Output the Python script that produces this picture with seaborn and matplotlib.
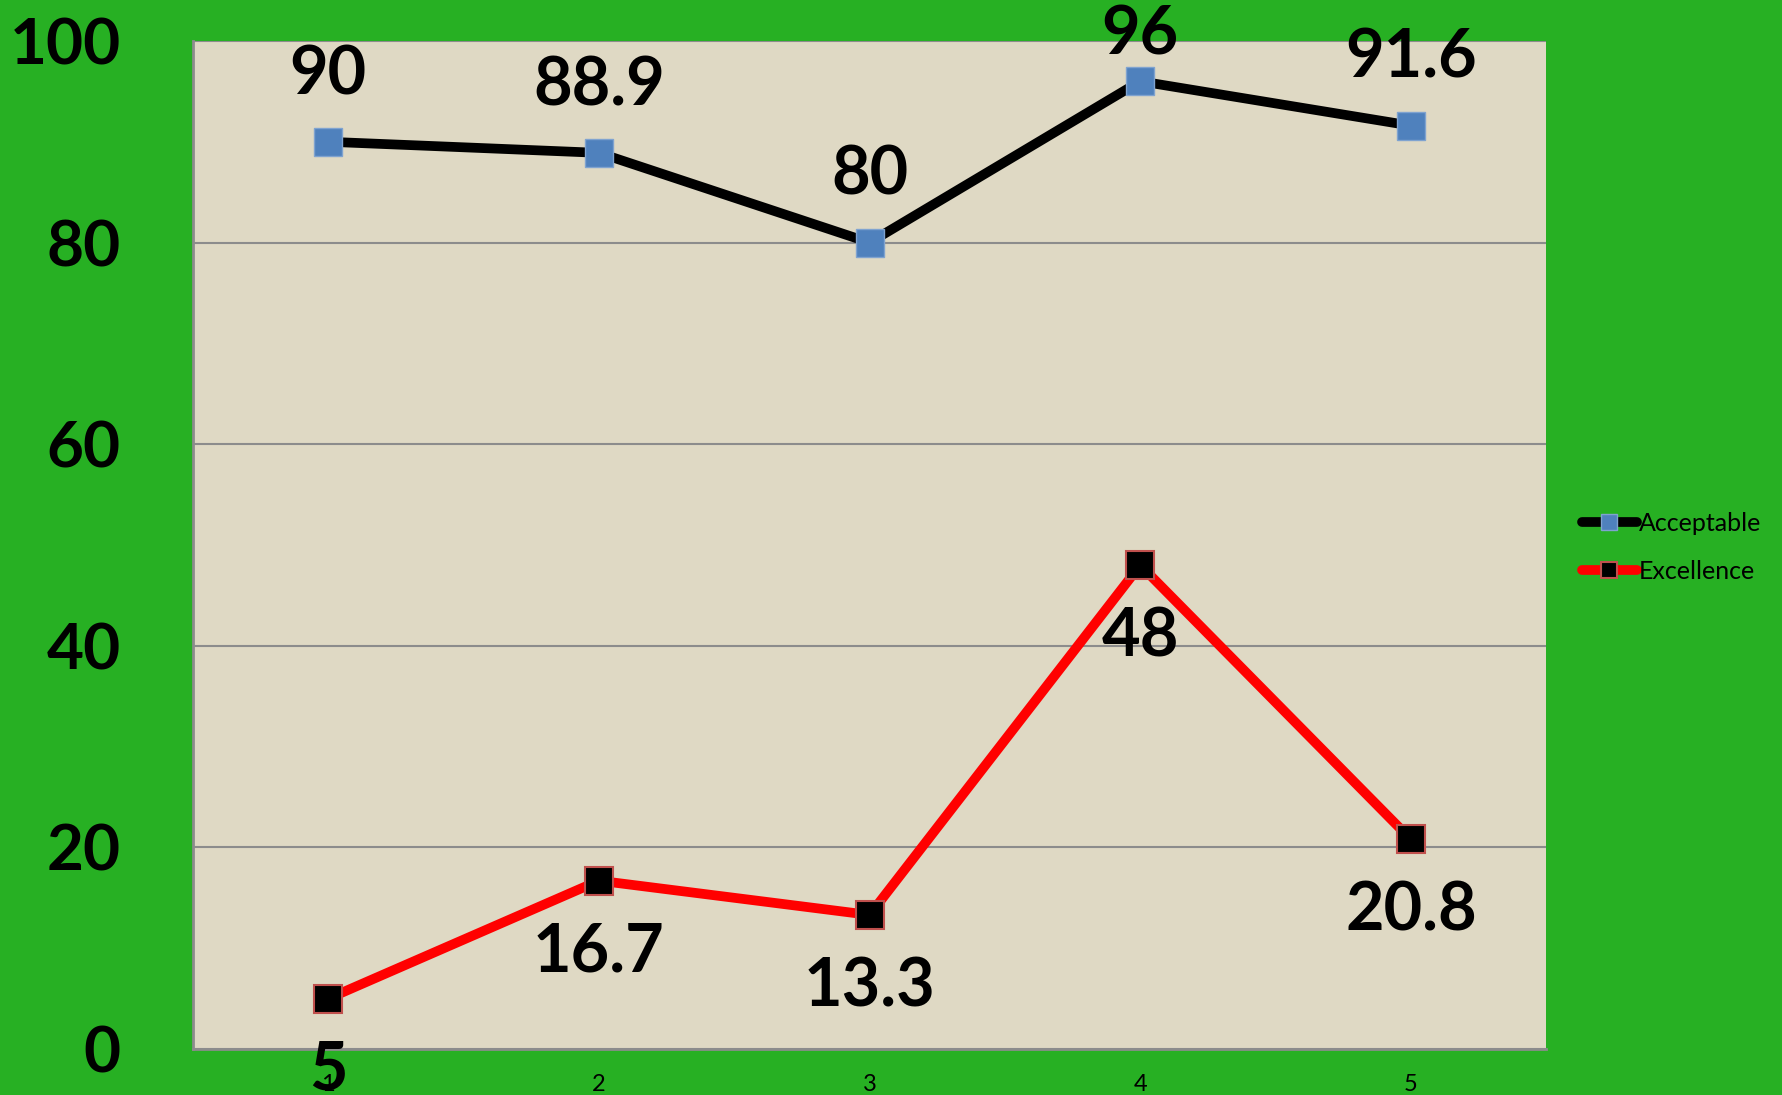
import pandas as pd
import matplotlib.pyplot as plt
import seaborn as sns

# data
categories = [1, 2, 3, 4, 5]
acceptable = [90, 88.9, 80, 96, 91.6]
excellence = [5, 16.7, 13.3, 48, 20.8]
acc_labels = ["90", "88.9", "80", "96", "91.6"]
exc_labels = ["5", "16.7", "13.3", "48", "20.8"]

df = pd.DataFrame({"x": categories, "Acceptable": acceptable, "Excellence": excellence})

sns.set_style("white")
plt.rcParams["font.family"] = ["Lato", "DejaVu Sans"]
plt.rcParams["text.color"] = "black"
plt.rcParams["xtick.color"] = "black"
plt.rcParams["ytick.color"] = "black"

green = "#27B023"
fig = plt.figure(figsize=(17.83, 10.95), dpi=100, facecolor=green)
ax = fig.add_axes([0.1082, 0.042, 0.7590, 0.9206])
ax.set_facecolor("#DFD9C4")
ax.patch.set_edgecolor("none")
ax.patch.set_linewidth(0)

sns.lineplot(data=df, x="x", y="Acceptable", ax=ax, color="black", linewidth=7,
             marker="s", markersize=20, markerfacecolor="#4F81BD",
             markeredgecolor="#7FA3D0", markeredgewidth=1, label="Acceptable", zorder=3)
sns.lineplot(data=df, x="x", y="Excellence", ax=ax, color="#FF0000", linewidth=7,
             marker="s", markersize=20, markerfacecolor="black",
             markeredgecolor="#C0504D", markeredgewidth=1.5, label="Excellence", zorder=3)

# data labels (Excel nudges the 96 label down to keep it in the chart)
for x, y, t in zip(categories, acceptable, acc_labels):
    off = 33 if y > 95 else 48
    ax.annotate(t, (x, y), xytext=(0, off), textcoords="offset points",
                ha="center", va="center", fontsize=48, fontweight="bold", zorder=5,
                color="black", annotation_clip=False)
for x, y, t in zip(categories, excellence, exc_labels):
    ax.annotate(t, (x, y), xytext=(0, -52), textcoords="offset points",
                ha="center", va="center", fontsize=48, fontweight="bold", zorder=5,
                color="black", annotation_clip=False)

ax.set_xlim(0.5, 5.5)
ax.set_ylim(0, 100)
ax.set_yticks([0, 20, 40, 60, 80, 100])
ax.set_xticks(categories)
ax.set_xticks([0.5, 1.5, 2.5, 3.5, 4.5, 5.5], minor=True)
ax.tick_params(axis="x", which="major", length=0, pad=18, labelsize=17)
ax.tick_params(axis="x", which="minor", length=7, width=1.5, color="#8C8C8C")
ax.tick_params(axis="y", length=18, width=1.5, color="#8C8C8C", pad=34, labelsize=46)
for lab in ax.get_yticklabels():
    lab.set_fontweight("bold")
ax.set_xlabel("")
ax.set_ylabel("")

ax.yaxis.grid(True, color="#8C8C8C", linewidth=1.5)
ax.set_axisbelow(True)
for s in ["top", "right"]:
    ax.spines[s].set_visible(False)
for s in ["left", "bottom"]:
    ax.spines[s].set_color("#8C8C8C")
    ax.spines[s].set_linewidth(2)

leg = ax.legend(loc="center left", bbox_to_anchor=(0.887, 0.5), bbox_transform=fig.transFigure,
                frameon=False, fontsize=18, handlelength=2.2, handletextpad=0.1,
                labelspacing=1.0, markerscale=0.6, borderpad=0, borderaxespad=0)
for txt in leg.get_texts():
    txt.set_color("black")

plt.savefig("out.png", dpi=100, facecolor=green)
